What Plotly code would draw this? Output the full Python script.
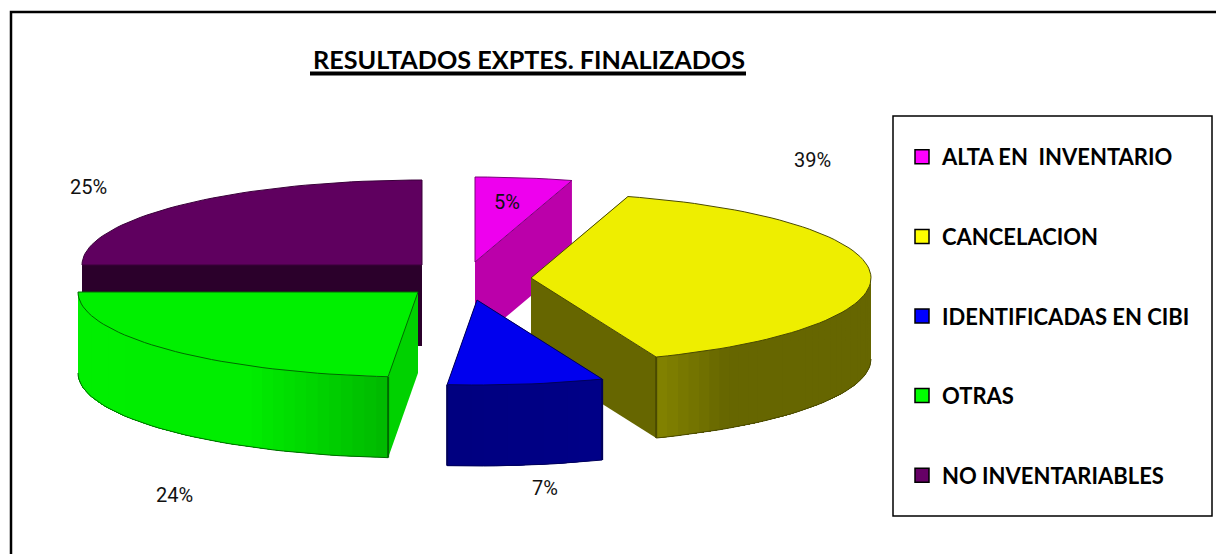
import math
import plotly.graph_objects as go

# ---- data ----
categories = ["ALTA EN  INVENTARIO", "CANCELACION", "IDENTIFICADAS EN CIBI", "OTRAS", "NO INVENTARIABLES"]
shares = [4.6, 39.4, 7.4, 23.6, 25.0]
tick_labels = ["5%", "39%", "7%", "24%", "25%"]
title_text = "RESULTADOS EXPTES. FINALIZADOS"

# ---- style / projection ----
RX, RY, DEPTH = 340, 85, 81
apex = [(475, 262), (531, 278), (477, 300), (418, 292), (422, 265)]
top_col = ["#ee00ee", "#eeee00", "#0000ee", "#00f000", "#5f005f"]
legend_col = ["#ff00ff", "#ffff00", "#0000ff", "#00ff00", "#660066"]
edge_col = ["#7a007a", "#4a4a00", "#00005a", "#006a00", "#3a003a"]
cut_col = ["#bb00aa", "#666600", "#000080", "#00d200", "#2b002b"]
# wall shading, t runs along the visible rim in clockwise order
wall_stops = [
    [(0, (187, 0, 170)), (1, (187, 0, 170))],
    [(0, (102, 102, 0)), (0.8, (102, 102, 0)), (1, (132, 132, 0))],
    [(0, (0, 0, 136)), (1, (0, 0, 128))],
    [(0, (0, 184, 0)), (0.12, (0, 208, 0)), (0.29, (0, 238, 0)), (1, (0, 240, 0))],
    [(0, (43, 0, 43)), (1, (43, 0, 43))],
]
label_pos = [(507, 202), (812, 160), (545, 488), (174, 495), (88, 187)]


def pt(i, deg, dy=0):
    a = math.radians(deg)
    return apex[i][0] + RX * math.sin(a), apex[i][1] - RY * math.cos(a) + dy


def lerp_stops(stops, t):
    for (t0, c0), (t1, c1) in zip(stops, stops[1:]):
        if t <= t1:
            f = (t - t0) / (t1 - t0)
            return "rgb(%d,%d,%d)" % tuple(c0[k] + (c1[k] - c0[k]) * f for k in range(3))
    return "rgb(%d,%d,%d)" % stops[-1][1]


fig = go.Figure()


def poly(points, fill, line=None, width=0):
    fig.add_trace(go.Scatter(
        x=[p[0] for p in points], y=[p[1] for p in points], mode="lines", fill="toself",
        fillcolor=fill, line=dict(color=line or fill, width=width),
        showlegend=False, hoverinfo="skip"))


def stroke(points, color, width=1):
    fig.add_trace(go.Scatter(
        x=[p[0] for p in points], y=[p[1] for p in points], mode="lines",
        line=dict(color=color, width=width), showlegend=False, hoverinfo="skip"))


# slice angles derived from the shares, clockwise from 12 o'clock
angles = []
c = 0.0
for s in shares:
    angles.append((c * 3.6, (c + s) * 3.6))
    c += s


def arc(a0, a1, i, dy=0):
    n = max(2, int(abs(a1 - a0) / 2) + 1)
    return [pt(i, a0 + (a1 - a0) * k / (n - 1), dy) for k in range(n)]


def draw_slice(i):
    a0, a1 = angles[i]
    ax, ay = apex[i]
    for deg in (a0, a1):
        p = pt(i, deg)
        poly([(ax, ay), p, (p[0], p[1] + DEPTH), (ax, ay + DEPTH)], cut_col[i])
    w0, w1 = max(a0, 90), min(a1, 270)
    if w1 > w0:
        steps = max(1, int((w1 - w0) / 2))
        for k in range(steps):
            d0 = w0 + (w1 - w0) * k / steps
            top = arc(d0, w1, i)
            poly(top + [(q[0], q[1] + DEPTH) for q in reversed(top)],
                 lerp_stops(wall_stops[i], (k + 0.5) / steps))
        stroke(arc(w0, w1, i, DEPTH), edge_col[i], 1)
    if i in (1, 2):
        p = pt(i, a1)
        stroke([p, (p[0], p[1] + DEPTH)], edge_col[i], 2)
    if i in (2, 3):
        p = pt(i, a0)
        stroke([p, (p[0], p[1] + DEPTH)], edge_col[i], 2)
    poly([(ax, ay)] + arc(a0, a1, i) + [(ax, ay)], top_col[i], edge_col[i], 1)


for i in [4, 3, 0, 1, 2]:
    draw_slice(i)

for i, name in enumerate(categories):
    fig.add_trace(go.Scatter(
        x=[None], y=[None], mode="markers", name=name, legendgroup=name,
        marker=dict(symbol="square", size=14, color=legend_col[i], line=dict(color="black", width=1.5))))

annotations = [
    dict(x=x, y=y, text=t, showarrow=False, xref="x", yref="y",
         font=dict(family="Roboto", size=20, color="#111111"))
    for (x, y), t in zip(label_pos, tick_labels)
]
annotations.append(dict(
    x=528.5, y=59, xref="x", yref="y", text=f"<b>{title_text}</b>", showarrow=False,
    font=dict(family="Lato", size=25.2, color="black")))

shapes = [
    dict(type="rect", x0=11, y0=12, x1=1240, y1=600, line=dict(color="black", width=2.5), layer="below"),
    dict(type="rect", x0=893, y0=116, x1=1212, y1=516, line=dict(color="black", width=1.5), layer="below"),
    dict(type="line", x0=310, x1=746, y0=73.5, y1=73.5, line=dict(color="black", width=4), layer="below"),
]

fig.update_layout(
    width=1216, height=554, margin=dict(l=0, r=0, t=0, b=0),
    paper_bgcolor="white", plot_bgcolor="white",
    xaxis=dict(range=[0, 1216], visible=False, fixedrange=True),
    yaxis=dict(range=[554, 0], visible=False, fixedrange=True),
    shapes=shapes, annotations=annotations,
    legend=dict(x=902 / 1216, y=1 - 136 / 554, xanchor="left", yanchor="top",
                tracegroupgap=48, bgcolor="rgba(0,0,0,0)", borderwidth=0, itemwidth=30,
                font=dict(family="Lato", size=22, color="black", weight="bold"),
                traceorder="grouped"),
)

fig.write_html("out.html", config={"displayModeBar": False},
               post_script="document.body.style.margin='0';")
